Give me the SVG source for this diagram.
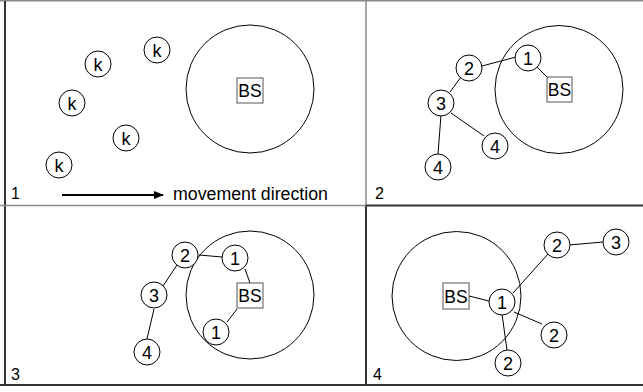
<svg xmlns="http://www.w3.org/2000/svg" width="643" height="392" viewBox="0 0 643 392">
<style>
.frame-g{stroke:#8a8a8a;stroke-width:1.5;fill:none}
.frame-d{stroke:#333;stroke-width:2;fill:none}
.area{fill:none;stroke:#000;stroke-width:1}
.node circle{fill:#fff;stroke:#000;stroke-width:1}
.bs rect{fill:#fff;stroke:#555;stroke-width:1}
text{font-family:"Liberation Sans",Arial,sans-serif;fill:#000}
.nl{font-size:18px;text-anchor:middle}
.bsl{font-size:17.5px;text-anchor:middle}
.pl{font-size:16px}
#connectors line{stroke:#000;stroke-width:1}
</style>
<defs>
<marker id="ah" markerWidth="10" markerHeight="8" refX="9" refY="4" orient="auto" markerUnits="userSpaceOnUse">
<path d="M0,0 L10,4 L0,8 Z" fill="#000"/>
</marker>
</defs>
<rect width="643" height="392" fill="#fff"/>
<g id="frame">
<line class="frame-g" x1="0" y1="0.75" x2="643" y2="0.75"/>
<line class="frame-d" x1="5" y1="1" x2="5" y2="385"/>
<line class="frame-g" x1="366" y1="0" x2="366" y2="205"/>
<line class="frame-d" x1="366" y1="205" x2="366" y2="385"/>
<line class="frame-g" x1="0" y1="205.5" x2="366" y2="205.5"/>
<line class="frame-d" x1="366" y1="205.5" x2="643" y2="205.5"/>
<line class="frame-d" x1="0" y1="385" x2="643" y2="385"/>
</g>
<g id="panel-labels">
<text class="pl" x="11" y="199">1</text>
<text class="pl" x="375" y="199">2</text>
<text class="pl" x="11" y="380">3</text>
<text class="pl" x="373" y="380">4</text>
</g>
<g id="movement">
<line x1="62" y1="195" x2="163" y2="195" stroke="#000" stroke-width="2" marker-end="url(#ah)"/>
<text x="173" y="200" font-size="18" textLength="155" lengthAdjust="spacingAndGlyphs">movement direction</text>
</g>
<g id="coverage">
<circle class="area" cx="250" cy="89" r="64"/>
<circle class="area" cx="559" cy="89.5" r="64"/>
<circle class="area" cx="250" cy="295" r="64"/>
<circle class="area" cx="456.5" cy="296" r="64.5"/>
</g>
<g id="connectors">
<line x1="537" y1="67" x2="547" y2="77"/>
<line x1="482" y1="66" x2="516" y2="57"/>
<line x1="450" y1="92" x2="461" y2="77"/>
<line x1="451" y1="113" x2="484" y2="136"/>
<line x1="441" y1="115" x2="438" y2="154"/>
<line x1="199" y1="255" x2="222" y2="257"/>
<line x1="177" y1="265" x2="163" y2="286"/>
<line x1="154" y1="309" x2="147" y2="339"/>
<line x1="245" y1="269" x2="250" y2="283"/>
<line x1="237" y1="309" x2="227" y2="322"/>
<line x1="469" y1="296" x2="489" y2="301"/>
<line x1="513" y1="293" x2="548" y2="254"/>
<line x1="569" y1="245" x2="603" y2="242"/>
<line x1="514" y1="312" x2="542" y2="324"/>
<line x1="502" y1="314" x2="507" y2="350"/>
</g>
<g id="p1-bs" class="bs"><rect x="237" y="78" width="26" height="25"/><text class="bsl" x="250" y="96.5">BS</text></g>
<g id="p1-k1" class="node"><circle cx="157" cy="50" r="13"/><text class="nl" x="157" y="56.5">k</text></g>
<g id="p1-k2" class="node"><circle cx="98" cy="64" r="13"/><text class="nl" x="98" y="70.5">k</text></g>
<g id="p1-k3" class="node"><circle cx="72" cy="103" r="13"/><text class="nl" x="72" y="109.5">k</text></g>
<g id="p1-k4" class="node"><circle cx="126" cy="138" r="13"/><text class="nl" x="126" y="144.5">k</text></g>
<g id="p1-k5" class="node"><circle cx="59" cy="165" r="13"/><text class="nl" x="59" y="171.5">k</text></g>

<g id="p2-bs" class="bs"><rect x="547" y="77" width="25" height="25"/><text class="bsl" x="559.5" y="96">BS</text></g>
<g id="p2-n1" class="node"><circle cx="528" cy="58" r="13"/><text class="nl" x="528" y="64.5">1</text></g>
<g id="p2-n2" class="node"><circle cx="469" cy="68" r="13"/><text class="nl" x="469" y="74.5">2</text></g>
<g id="p2-n3" class="node"><circle cx="441" cy="103" r="13"/><text class="nl" x="441" y="109.5">3</text></g>
<g id="p2-n4a" class="node"><circle cx="495" cy="146" r="13"/><text class="nl" x="495" y="152.5">4</text></g>
<g id="p2-n4b" class="node"><circle cx="438" cy="167" r="13"/><text class="nl" x="438" y="173.5">4</text></g>

<g id="p3-bs" class="bs"><rect x="237" y="283" width="26" height="25"/><text class="bsl" x="250" y="302">BS</text></g>
<g id="p3-n2" class="node"><circle cx="185" cy="255" r="13"/><text class="nl" x="185" y="261.5">2</text></g>
<g id="p3-n1a" class="node"><circle cx="235" cy="258" r="13"/><text class="nl" x="235" y="264.5">1</text></g>
<g id="p3-n3" class="node"><circle cx="154" cy="295" r="13"/><text class="nl" x="154" y="301.5">3</text></g>
<g id="p3-n4" class="node"><circle cx="147" cy="352" r="13"/><text class="nl" x="147" y="358.5">4</text></g>
<g id="p3-n1b" class="node"><circle cx="216" cy="332" r="13"/><text class="nl" x="216" y="338.5">1</text></g>

<g id="p4-bs" class="bs"><rect x="443" y="283" width="26" height="26"/><text class="bsl" x="456" y="302.5">BS</text></g>
<g id="p4-n1" class="node"><circle cx="502" cy="302" r="13"/><text class="nl" x="502" y="308.5">1</text></g>
<g id="p4-n2a" class="node"><circle cx="557" cy="245" r="13"/><text class="nl" x="557" y="251.5">2</text></g>
<g id="p4-n3" class="node"><circle cx="616" cy="242" r="13"/><text class="nl" x="616" y="248.5">3</text></g>
<g id="p4-n2b" class="node"><circle cx="554" cy="335" r="13"/><text class="nl" x="554" y="341.5">2</text></g>
<g id="p4-n2c" class="node"><circle cx="508" cy="363" r="13"/><text class="nl" x="508" y="369.5">2</text></g>
</svg>
